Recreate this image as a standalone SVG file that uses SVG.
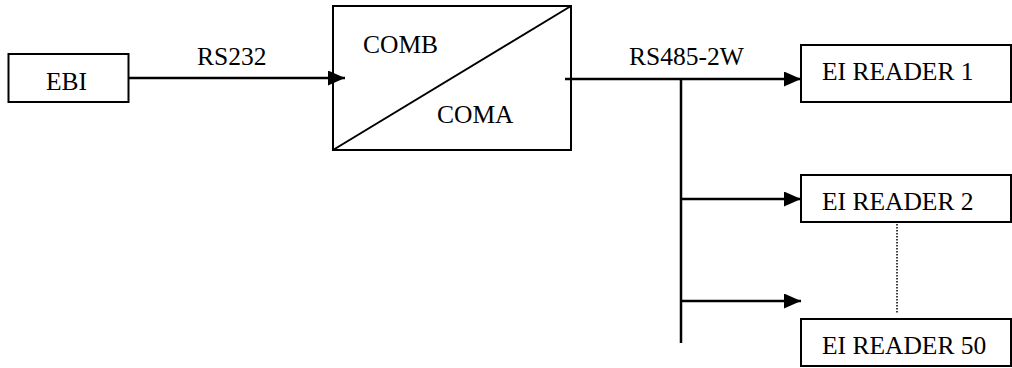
<svg xmlns="http://www.w3.org/2000/svg" width="1012" height="368" viewBox="0 0 1012 368">
<style>
.box{fill:#fff;stroke:#000;stroke-width:2}
.t{font-family:"Liberation Serif","Times New Roman",serif;font-size:25.5px;fill:#000}
.c{fill:none;stroke:#000;stroke-width:2.5}
</style>
<defs>
<marker id="ah" markerWidth="17" markerHeight="15" refX="17" refY="7.5" orient="auto" markerUnits="userSpaceOnUse">
<path d="M0,0 L17,7.5 L0,15 Z" fill="#000"/>
</marker>
</defs>
<rect width="1012" height="368" fill="#fff"/>
<g id="ebi"><rect class="box" x="8.5" y="54" width="120" height="48"/><text class="t" x="46" y="90">EBI</text></g>
<g id="converter"><rect class="box" x="333" y="6" width="238" height="144"/><line x1="333" y1="150" x2="571" y2="6" stroke="#000" stroke-width="2"/><text class="t" x="363" y="53">COMB</text><text class="t" x="437" y="123">COMA</text></g>
<g id="reader1"><rect class="box" x="801" y="45" width="210" height="57"/><text class="t" x="822" y="80">EI READER 1</text></g>
<g id="reader2"><rect class="box" x="801" y="175" width="210" height="47"/><text class="t" x="822" y="210">EI READER 2</text></g>
<g id="reader50"><rect class="box" x="801" y="319" width="210" height="47"/><text class="t" x="822" y="354">EI READER 50</text></g>
<g id="connectors">
<line class="c" x1="129" y1="78" x2="345" y2="78" marker-end="url(#ah)"/>
<text class="t" x="197" y="65">RS232</text>
<line class="c" x1="565" y1="79" x2="801" y2="79" marker-end="url(#ah)"/>
<text class="t" x="629" y="65">RS485-2W</text>
<line class="c" x1="681" y1="79" x2="681" y2="343"/>
<line class="c" x1="681" y1="199" x2="801" y2="199" marker-end="url(#ah)"/>
<line class="c" x1="681" y1="301" x2="801" y2="301" marker-end="url(#ah)"/>
<line x1="897" y1="221" x2="897" y2="313" stroke="#000" stroke-width="1.5" stroke-dasharray="1.5,1.5"/>
</g>
</svg>
